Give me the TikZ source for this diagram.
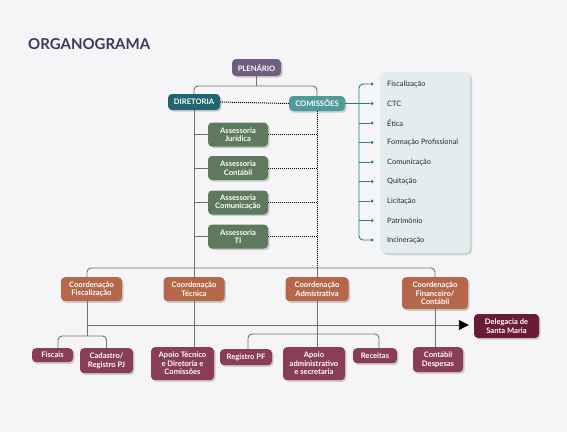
\documentclass[tikz,border=0pt]{standalone}
\usepackage{fontspec}
\setmainfont{Lato}
\usetikzlibrary{arrows.meta, positioning, shadows}
\definecolor{bgcol}{HTML}{F5F5F8}
\definecolor{titlecol}{HTML}{3E3859}
\definecolor{plencol}{HTML}{6E5F80}
\definecolor{dircol}{HTML}{1F6670}
\definecolor{comcol}{HTML}{4F9B99}
\definecolor{asscol}{HTML}{5E7A5E}
\definecolor{coordcol}{HTML}{B5674A}
\definecolor{subcol}{HTML}{8A3D56}
\definecolor{delcol}{HTML}{6A1C37}
\definecolor{panelcol}{HTML}{E4EDED}
\definecolor{linecol}{HTML}{707070}
\definecolor{tealcol}{HTML}{2D7A7B}
\tikzset{
    basenode/.style={rectangle, rounded corners=4pt, text=white, align=center, inner sep=1pt, font=\bfseries\fontsize{7.6}{8.5}\selectfont, drop shadow={shadow xshift=1.6pt, shadow yshift=-1.6pt, opacity=0.35}},
    plenarionode/.style={basenode, fill=plencol},
    diretorianode/.style={basenode, fill=dircol},
    comissoesnode/.style={basenode, fill=comcol},
    assessorianode/.style={basenode, fill=asscol, minimum width=60pt, minimum height=24pt},
    coordnode/.style={basenode, fill=coordcol, minimum width=61pt, minimum height=24pt, anchor=north},
    subnode/.style={basenode, fill=subcol, anchor=north},
    delegacianode/.style={basenode, fill=delcol, minimum width=65pt, minimum height=24pt},
    greyline/.style={draw=linecol, line width=0.9pt},
    dotline/.style={draw=black, line width=1pt, dash pattern=on 1pt off 1pt},
    tealline/.style={draw=tealcol, line width=0.9pt},
    tealdot/.style={circle, fill=tealcol, inner sep=0pt, minimum size=3.2pt},
    itemlabel/.style={anchor=west, text=black!85, font=\fontsize{7.4}{8}\selectfont, inner sep=0pt},
    titlelabel/.style={anchor=west, text=titlecol, font=\bfseries\fontsize{15}{18}\selectfont, inner sep=0pt},
    panelbox/.style={fill=panelcol, rounded corners=5pt, drop shadow={shadow xshift=2pt, shadow yshift=-2pt, opacity=0.3}}
}
\begin{document}
\begin{tikzpicture}[x=1pt, y=-1pt]
        \fill[bgcol] (0,0) rectangle (567,432);
        \useasboundingbox (0,0) rectangle (567,432);

        % ------------------
        % nodes
        % ------------------

        \node[titlelabel] (title) at (28,44) {ORGANOGRAMA};

        \node[plenarionode, minimum width=49pt, minimum height=17pt] (plenario) at (256.5,67.5) {PLENÁRIO};
        \node[diretorianode, minimum width=52pt, minimum height=16pt] (diretoria) at (194,102) {DIRETORIA};
        \node[comissoesnode, minimum width=56pt, minimum height=15pt] (comissoes) at (317,103.5) {COMISSÕES};

        \node[assessorianode] (asjur) at (238,134.5) {Assessoria\\Jurídica};
        \node[assessorianode] (ascont) at (238,168) {Assessoria\\Contábil};
        \node[assessorianode] (ascom) at (238,202.5) {Assessoria\\Comunicação};
        \node[assessorianode] (asti) at (238,236.5) {Assessoria\\TI};

        \node[coordnode] (cfisc) at (91.5,277) {Coordenação\\Fiscalização};
        \node[coordnode] (ctec) at (194,277) {Coordenação\\Técnica};
        \node[coordnode, minimum width=63pt] (cadm) at (317,277) {Coordenação\\Admistrativa};
        \node[coordnode, minimum width=66pt, minimum height=32pt] (cfin) at (435,277) {Coordenação\\Financeiro/\\Contábil};

        \node[delegacianode] (delegacia) at (506.5,326) {Delegacia de\\Santa Maria};

        \node[subnode, minimum width=41pt, minimum height=14pt] (fiscais) at (52.5,348) {Fiscais};
        \node[subnode, minimum width=53pt, minimum height=25pt] (cadastro) at (106.5,348) {Cadastro/\\Registro PJ};
        \node[subnode, minimum width=63pt, minimum height=33pt] (apoiotec) at (182.5,347) {Apoio Técnico\\e Diretoria e\\Comissões};
        \node[subnode, minimum width=52pt, minimum height=16pt] (registropf) at (246,349) {Registro PF};
        \node[subnode, minimum width=62pt, minimum height=33pt] (apoioadm) at (314,347) {Apoio\\administrativo\\e secretaria};
        \node[subnode, minimum width=44pt, minimum height=15pt] (receitas) at (375,348) {Receitas};
        \node[subnode, minimum width=50pt, minimum height=25pt] (contabil) at (438,347) {Contábil\\Despesas};

        % commission list
        \path[panelbox] (380,72) rectangle (470,253);
        \foreach \comname [count=\i] in {Fiscalização, CTC, Ética, Formação Profissional, Comunicação, Quitação, Licitação, Patrimônio, Incineração} {
            \node[itemlabel] (item\i) at (387,64.5+19.5*\i) {\comname};
            \node[tealdot] (dot\i) at (372,64.5+19.5*\i) {};
        }

        \coordinate (topbar) at (256.5,86);
        \coordinate (midbar) at (256,268);
        \coordinate (fiscsplit) at (87,325);
        \coordinate (fiscsub) at (87,336);
        \coordinate (admsub) at (317,334);
        \coordinate (brk) at (359,162);

        % ------------------
        % arrows
        % ------------------

        \draw[greyline] (plenario.south) -- (topbar);
        \draw[greyline, rounded corners=4pt] (diretoria.north) |- (topbar) -| (comissoes.north);
        \draw[dotline] (diretoria.east) -- (comissoes.west);

        \draw[greyline] (diretoria.south) -- (ctec.north);
        \draw[greyline] (diretoria.south |- asjur.west) -- (asjur.west);
        \draw[greyline] (diretoria.south |- ascont.west) -- (ascont.west);
        \draw[greyline] (diretoria.south |- ascom.west) -- (ascom.west);
        \draw[greyline] (diretoria.south |- asti.west) -- (asti.west);

        \draw[dotline] (comissoes.south) -- (comissoes.south |- midbar);
        \draw[dotline] (asjur.east) -- (asjur.east -| comissoes.south);
        \draw[dotline] (ascont.east) -- (ascont.east -| comissoes.south);
        \draw[dotline] (ascom.east) -- (ascom.east -| comissoes.south);
        \draw[dotline] (asti.east) -- (asti.east -| comissoes.south);

        \draw[tealline] (comissoes.east) -- (comissoes.east -| brk);
        \draw[tealline, rounded corners=4pt] (dot1) -| (brk) |- (dot9);
        \foreach \i in {2,...,8} \draw[tealline] (dot\i -| brk) -- (dot\i);

        \draw[greyline, rounded corners=4pt] ([xshift=-4.5pt]cfisc.north) |- (midbar) -| (cfin.north);
        \draw[greyline] (comissoes.south |- midbar) -- (cadm.north);

        \draw[greyline] ([xshift=-4.5pt]cfisc.south) -- (fiscsub);
        \draw[greyline, -{Triangle[black, length=10pt, width=10pt]}, shorten >=5pt] (fiscsplit) -- (fiscsplit -| delegacia.west);
        \draw[greyline, rounded corners=4pt] ([xshift=5.5pt]fiscais.north) |- (fiscsub) -| (cadastro.north);

        \draw[greyline] (ctec.south) -- (ctec.south |- apoiotec.north);
        \draw[greyline] (cadm.south) -- (cadm.south |- apoioadm.north);
        \draw[greyline, rounded corners=4pt] ([xshift=2pt]registropf.north) |- (admsub) -| ([xshift=4pt]receitas.north);
        \draw[greyline] (cfin.south) -- (cfin.south |- contabil.north);

\end{tikzpicture}
\end{document}
